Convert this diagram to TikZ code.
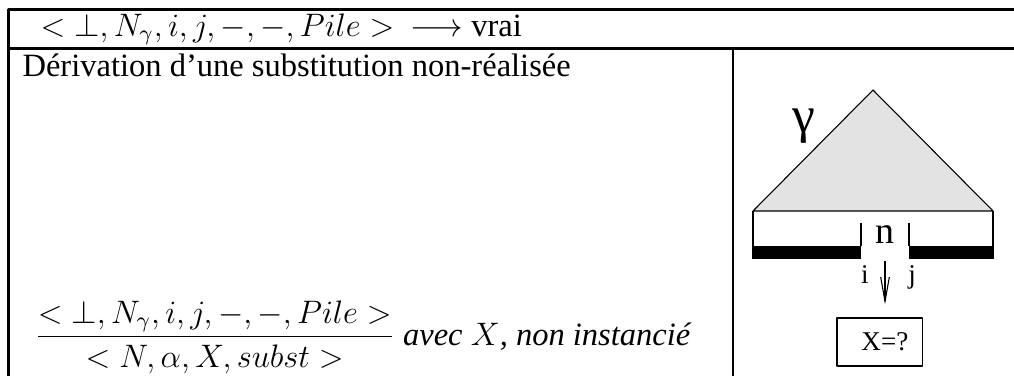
\documentclass[tikz,border=0pt]{standalone}
\usepackage{fontspec}
\setmainfont{Liberation Serif}
\usetikzlibrary{arrows.meta}

\begin{document}
\begin{tikzpicture}[x=0.369pt, y=-0.369pt, line join=round,
    cadre/.style={line width=0.75pt},
    texte/.style={inner sep=0pt, anchor=base west, font=\fontsize{12}{14}\selectfont},
    fleche/.style={line width=0.4pt, -{Straight Barb[length=9pt, width=3.2pt]}}]
    \useasboundingbox (0,0) rectangle (1014,376);

    % 1. 表格边框 (右侧无竖线, 底部无横线)
    \coordinate (T1) at (8.5,9.5);
    \coordinate (T2) at (1014,9.5);
    \coordinate (M1) at (8.5,48.5);
    \coordinate (M2) at (1014,48.5);
    \coordinate (B1) at (8.5,376);
    \coordinate (S1) at (733,48.5);
    \coordinate (S2) at (733,376);
    \draw[cadre] (T2) -- (T1) -- (B1);
    \draw[cadre] (M1) -- (M2);
    \draw[cadre] (S1) -- (S2);

    % 2. 第一行: 规则
    \node[texte] (regle) at (40,36) {$< \bot, N_\gamma, i, j, -, -, Pile >\hspace{6pt}\longrightarrow$ vrai};

    % 3. 第二行左栏: 标题与推导式
    \node[texte] (titre) at (22,76) {Dérivation d'une substitution non-réalisée};
    \node[texte] (deriv) at (34,345) {$\displaystyle\frac{< \bot, N_\gamma, i, j, -, -, Pile >}{< N, \alpha, X, subst >}$ \textit{avec $X$, non instancié}};

    % 4. 右栏: 树 gamma (三角形)
    \coordinate (A) at (873,90);
    \coordinate (G) at (753,211);
    \coordinate (D) at (993,211);
    \filldraw[fill=gray!22, line width=0.4pt] (G) -- (A) -- (D) -- cycle;
    \node[font=\fontsize{19}{22}\selectfont] (gamma) at (804,126) {γ};

    % 底部两侧竖线与黑色粗条
    \coordinate (Gb) at (753,259);
    \coordinate (Db) at (993,259);
    \draw[line width=0.4pt] (G) -- (Gb);
    \draw[line width=0.4pt] (D) -- (Db);
    \fill (753,246) rectangle (861,259);
    \fill (909,246) rectangle (993,259);
    \draw[line width=0.4pt] (861,223) -- (861,246);
    \draw[line width=0.4pt] (909,223) -- (909,246);

    % 替换节点 n 及其边界 i, j
    \node[inner sep=0pt, anchor=base, font=\fontsize{14}{16}\selectfont] (n) at (885,243) {n};
    \node[inner sep=0pt, anchor=base, font=\fontsize{10}{12}\selectfont] (i) at (865,283) {i};
    \node[inner sep=0pt, anchor=base, font=\fontsize{10}{12}\selectfont] (j) at (912,283) {j};

    % 5. 未实例化的变量 X
    \node[draw, line width=0.4pt, minimum width=31.4pt, minimum height=17.7pt, inner sep=0pt,
          font=\fontsize{10}{12}\selectfont] (boite) at (879.5,342) {\hspace{4pt}X=?};
    \draw[fleche, shorten <=6.3pt, shorten >=4.8pt] (n.south) -- (n.south |- boite.north);
\end{tikzpicture}
\end{document}
